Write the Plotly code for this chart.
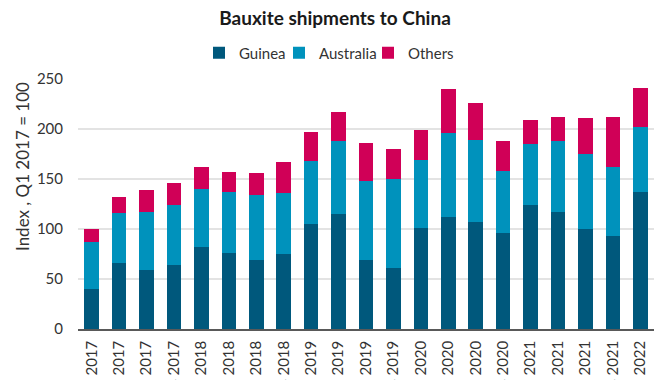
import plotly.graph_objects as go

quarters = ["Q1 2017", "Q2 2017", "Q3 2017", "Q4 2017",
            "Q1 2018", "Q2 2018", "Q3 2018", "Q4 2018",
            "Q1 2019", "Q2 2019", "Q3 2019", "Q4 2019",
            "Q1 2020", "Q2 2020", "Q3 2020", "Q4 2020",
            "Q1 2021", "Q2 2021", "Q3 2021", "Q4 2021",
            "Q1 2022"]
guinea = [40, 66, 59, 64, 82, 76, 69, 75, 105, 115, 69, 61, 101, 112, 107, 96, 124, 117, 100, 93, 137]
australia = [47, 50, 58, 60, 58, 61, 65, 61, 63, 73, 79, 89, 68, 84, 82, 62, 61, 71, 75, 69, 65]
others = [13, 16, 22, 22, 22, 20, 22, 31, 29, 29, 38, 30, 30, 44, 37, 30, 24, 24, 36, 50, 39]

FONT = "Lato"
PL, PW = 78, 576  # plot left and width in px
PB, PH = 329, 250  # plot bottom and height in px

def px_x(p):
    return (p - PL) / PW

def px_y(p):
    return (PB - p) / PH

fig = go.Figure()
fig.add_trace(go.Bar(x=quarters, y=guinea, name="Guinea", legend="legend",
                     marker=dict(color="#00587C", line=dict(width=0))))
fig.add_trace(go.Bar(x=quarters, y=australia, name="Australia", legend="legend2",
                     marker=dict(color="#0092BC", line=dict(width=0))))
fig.add_trace(go.Bar(x=quarters, y=others, name="Others", legend="legend3",
                     marker=dict(color="#D00057", line=dict(width=0))))

leg_common = dict(orientation="h", xanchor="left", y=px_y(53), yanchor="middle",
                  font=dict(family=FONT, size=15, color="#333333"), itemwidth=30,
                  bgcolor="rgba(0,0,0,0)")

fig.update_layout(
    width=670, height=380,
    barmode="stack", bargap=0.47,
    paper_bgcolor="white", plot_bgcolor="white",
    font=dict(family=FONT, size=15, color="#333333"),
    margin=dict(l=PL, r=670 - PL - PW, t=PB - PH, b=380 - PB, autoexpand=False),
    title=dict(text="<b>Bauxite shipments to China</b>", x=0.5, xanchor="center",
               y=1 - 18 / 380, yanchor="middle", font=dict(family=FONT, size=19, color="#1a1a1a")),
    legend=dict(x=px_x(239 - 40), **leg_common),
    legend2=dict(x=px_x(319 - 40), **leg_common),
    legend3=dict(x=px_x(408 - 40), **leg_common),
    showlegend=True,
    xaxis=dict(type="category", tickangle=-90, showgrid=False, showline=True,
               linecolor="#595959", linewidth=1.5, ticks="", automargin=False,
               ticklabelstandoff=4,
               tickfont=dict(family=FONT, size=15, color="#333333")),
    yaxis=dict(range=[0, 250], dtick=50, showgrid=True, gridcolor="#E3E3E3", gridwidth=1.5,
               zeroline=False, showline=False, ticks="", automargin=False,
               ticklabelstandoff=14,
               tickfont=dict(family=FONT, size=15, color="#333333")),
    annotations=[dict(text="Index , Q1 2017 = 100", textangle=-90, xref="paper", yref="paper",
                      x=px_x(22), xanchor="center", y=px_y(167), yanchor="middle",
                      showarrow=False, font=dict(family=FONT, size=17, color="#333333"))],
)

fig.write_html("out.html", config={"displayModeBar": False},
               post_script="document.body.style.margin='0';")
